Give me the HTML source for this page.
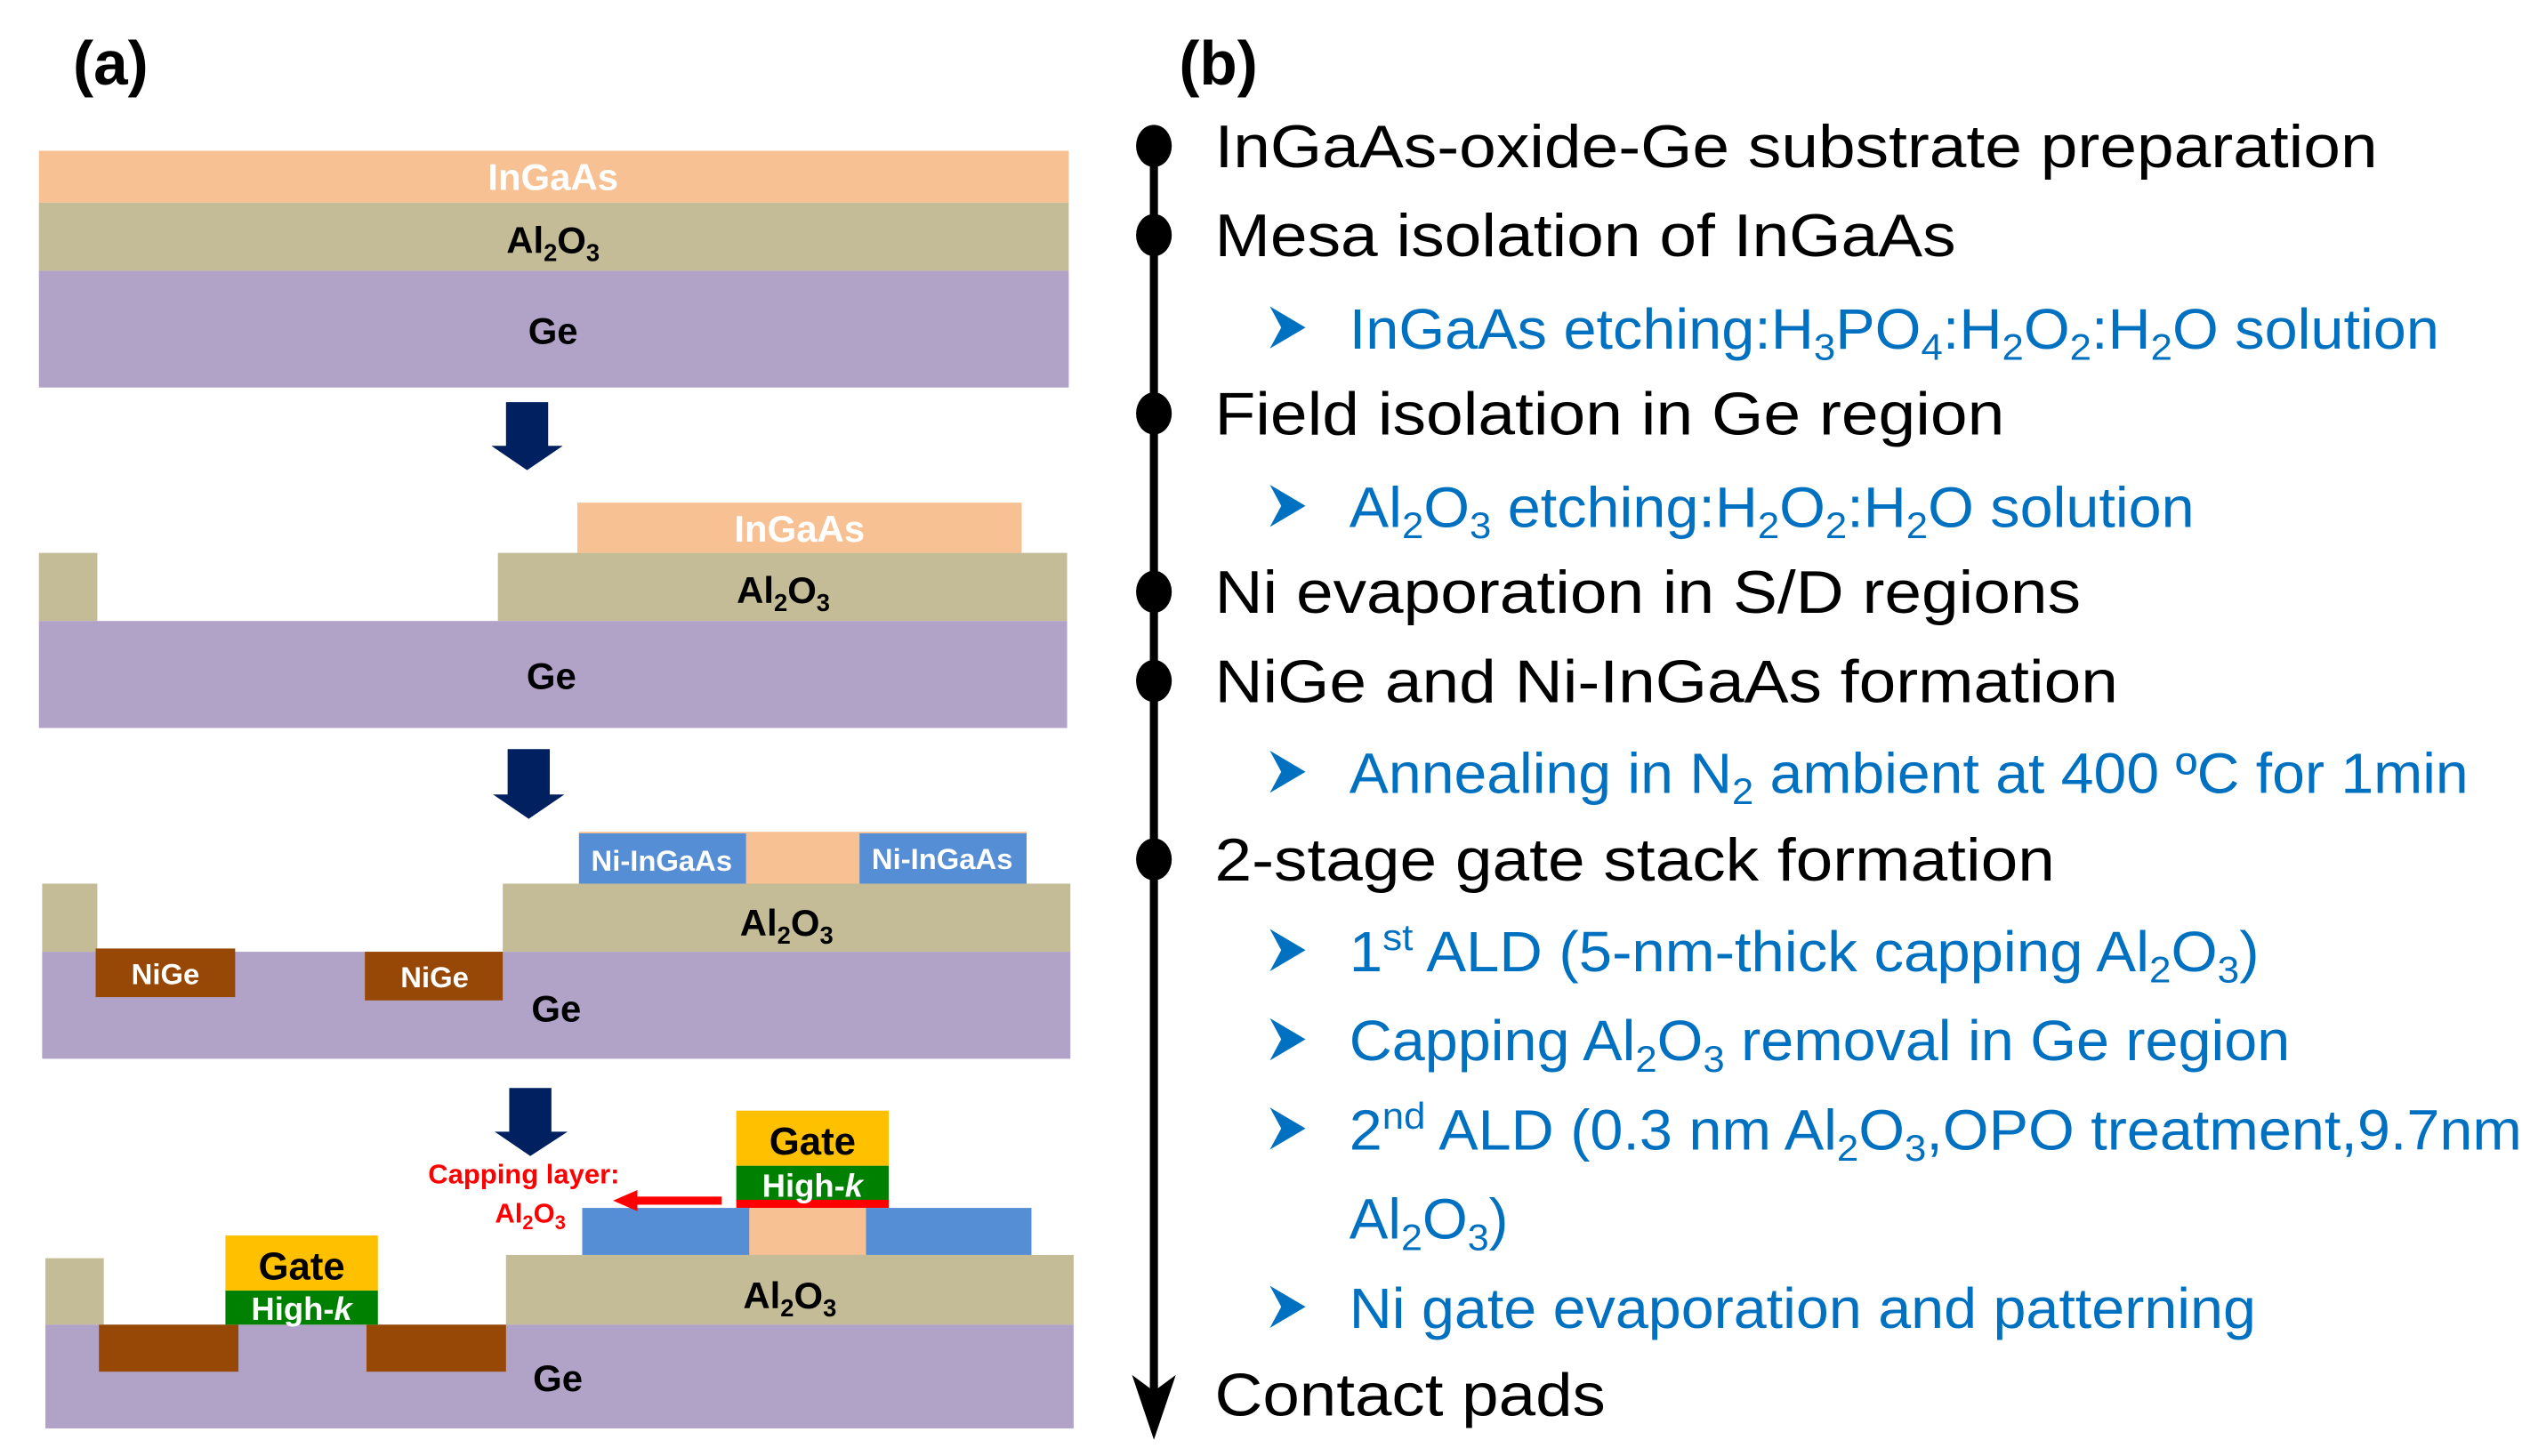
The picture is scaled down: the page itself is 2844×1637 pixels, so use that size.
<!DOCTYPE html>
<html><head><meta charset="utf-8"><style>html,body{margin:0;padding:0;background:#fff}svg{display:block}</style></head>
<body>
<svg width="2844" height="1637" viewBox="0 0 1560 898" preserveAspectRatio="none" xmlns="http://www.w3.org/2000/svg" font-family="Liberation Sans, Arial, sans-serif">
<rect width="1560" height="898" fill="#fff"/>
<!-- (a) -->
<text x="45" y="52" font-size="38" font-weight="bold">(a)</text>
<!-- stage 1 -->
<rect x="24" y="93" width="635" height="32" fill="#F8C193"/>
<rect x="24" y="125" width="635" height="42" fill="#C4BC97"/>
<rect x="24" y="167" width="635" height="72" fill="#B1A2C7"/>
<g font-weight="bold" font-size="23" text-anchor="middle">
<text x="341" y="117" fill="#fff">InGaAs</text>
<text x="341" y="156">Al<tspan font-size="15" dy="5">2</tspan><tspan dy="-5">O</tspan><tspan font-size="15" dy="5">3</tspan></text>
<text x="341" y="212">Ge</text>
</g>
<!-- arrow -->
<g fill="#002060">
<path d="M312 248H338V275H347L325 290L303 275H312Z"/>
<path d="M313 462H339V490H348L326 505L304 490H313Z"/>
<path d="M314 671H340V698H350L327 713L305 698H314Z"/>
</g>
<!-- stage 2 -->
<rect x="356" y="310" width="274" height="31" fill="#F8C193"/>
<rect x="307" y="341" width="351" height="42" fill="#C4BC97"/>
<rect x="24" y="341" width="36" height="42" fill="#C4BC97"/>
<rect x="24" y="383" width="634" height="66" fill="#B1A2C7"/>
<g font-weight="bold" font-size="23" text-anchor="middle">
<text x="493" y="334" fill="#fff">InGaAs</text>
<text x="483" y="372">Al<tspan font-size="15" dy="5">2</tspan><tspan dy="-5">O</tspan><tspan font-size="15" dy="5">3</tspan></text>
<text x="340" y="425">Ge</text>
</g>
<!-- stage 3 -->
<rect x="357" y="513" width="276" height="32" fill="#F8C193"/>
<rect x="357" y="514" width="103" height="31" fill="#558ED5"/>
<rect x="530" y="514" width="103" height="31" fill="#558ED5"/>
<rect x="310" y="545" width="350" height="42" fill="#C4BC97"/>
<rect x="26" y="545" width="34" height="42" fill="#C4BC97"/>
<rect x="26" y="587" width="634" height="66" fill="#B1A2C7"/>
<rect x="59" y="585" width="86" height="30" fill="#974806"/>
<rect x="225" y="587" width="85" height="30" fill="#974806"/>
<g font-weight="bold" text-anchor="middle">
<text x="408" y="537" font-size="18" fill="#fff">Ni-InGaAs</text>
<text x="581" y="536" font-size="18" fill="#fff">Ni-InGaAs</text>
<text x="102" y="607" font-size="18" fill="#fff">NiGe</text>
<text x="268" y="609" font-size="18" fill="#fff">NiGe</text>
<text x="485" y="577" font-size="23">Al<tspan font-size="15" dy="5">2</tspan><tspan dy="-5">O</tspan><tspan font-size="15" dy="5">3</tspan></text>
<text x="343" y="630" font-size="23">Ge</text>
</g>
<!-- stage 4 -->
<rect x="454" y="685" width="94" height="34" fill="#FFC000"/>
<rect x="454" y="719" width="94" height="22" fill="#008000"/>
<rect x="454" y="740" width="94" height="5" fill="#FF0000"/>
<rect x="359" y="745" width="277" height="29" fill="#558ED5"/>
<rect x="462" y="745" width="72" height="29" fill="#F8C193"/>
<rect x="312" y="774" width="350" height="43" fill="#C4BC97"/>
<rect x="28" y="776" width="36" height="41" fill="#C4BC97"/>
<rect x="28" y="817" width="634" height="64" fill="#B1A2C7"/>
<rect x="61" y="817" width="86" height="29" fill="#974806"/>
<rect x="226" y="817" width="86" height="29" fill="#974806"/>
<rect x="139" y="762" width="94" height="34" fill="#FFC000"/>
<rect x="139" y="796" width="94" height="21" fill="#008000"/>
<g font-weight="bold" text-anchor="middle">
<text x="501" y="712" font-size="24">Gate</text>
<text x="501" y="738" font-size="20" fill="#fff">High-<tspan font-style="italic">k</tspan></text>
<text x="186" y="789" font-size="24">Gate</text>
<text x="186" y="814" font-size="20" fill="#fff">High-<tspan font-style="italic">k</tspan></text>
<text x="487" y="807" font-size="23">Al<tspan font-size="15" dy="5">2</tspan><tspan dy="-5">O</tspan><tspan font-size="15" dy="5">3</tspan></text>
<text x="344" y="858" font-size="23">Ge</text>
<text x="323" y="730" font-size="17" fill="#FF0000">Capping layer:</text>
<text x="327" y="754" font-size="17" fill="#FF0000">Al<tspan font-size="12" dy="4">2</tspan><tspan dy="-4">O</tspan><tspan font-size="12" dy="4">3</tspan></text>
</g>
<rect x="390" y="738" width="55" height="5" fill="#FF0000"/>
<path d="M378 740.5L393 734V747Z" fill="#FF0000"/>
<!-- (b) -->
<text x="727" y="52" font-size="38" font-weight="bold">(b)</text>
<rect x="709" y="88" width="5" height="770" fill="#000"/>
<path d="M698 848L711.5 858L725 848L711.5 888Z" fill="#000"/>
<g fill="#000">
<ellipse cx="711.5" cy="90" rx="11" ry="13"/>
<ellipse cx="711.5" cy="145" rx="11" ry="13"/>
<ellipse cx="711.5" cy="255" rx="11" ry="13"/>
<ellipse cx="711.5" cy="365" rx="11" ry="13"/>
<ellipse cx="711.5" cy="420" rx="11" ry="13"/>
<ellipse cx="711.5" cy="530" rx="11" ry="13"/>
</g>
<g font-size="37" fill="#000">
<text x="749" y="103" textLength="717" lengthAdjust="spacingAndGlyphs">InGaAs-oxide-Ge substrate preparation</text>
<text x="749" y="158" textLength="457" lengthAdjust="spacingAndGlyphs">Mesa isolation of InGaAs</text>
<text x="749" y="268" textLength="487" lengthAdjust="spacingAndGlyphs">Field isolation in Ge region</text>
<text x="749" y="378" textLength="534" lengthAdjust="spacingAndGlyphs">Ni evaporation in S/D regions</text>
<text x="749" y="433" textLength="557" lengthAdjust="spacingAndGlyphs">NiGe and Ni-InGaAs formation</text>
<text x="749" y="543" textLength="518" lengthAdjust="spacingAndGlyphs">2-stage gate stack formation</text>
<text x="749" y="873" textLength="241" lengthAdjust="spacingAndGlyphs">Contact pads</text>
</g>
<g fill="#0070C0">
<g id="arr"><path d="M783 189L805 202L783 215L790 202Z"/></g>
<path d="M783 299L805 312L783 325L790 312Z"/>
<path d="M783 463L805 476L783 489L790 476Z"/>
<path d="M783 573L805 586L783 599L790 586Z"/>
<path d="M783 628L805 641L783 654L790 641Z"/>
<path d="M783 683L805 696L783 709L790 696Z"/>
<path d="M783 793L805 806L783 819L790 806Z"/>
</g>
<g font-size="35" fill="#0070C0">
<text x="832" y="215" textLength="672" lengthAdjust="spacingAndGlyphs">InGaAs etching:H<tspan font-size="23" dy="7">3</tspan><tspan dy="-7">PO</tspan><tspan font-size="23" dy="7">4</tspan><tspan dy="-7">:H</tspan><tspan font-size="23" dy="7">2</tspan><tspan dy="-7">O</tspan><tspan font-size="23" dy="7">2</tspan><tspan dy="-7">:H</tspan><tspan font-size="23" dy="7">2</tspan><tspan dy="-7">O solution</tspan></text>
<text x="832" y="325" textLength="521" lengthAdjust="spacingAndGlyphs">Al<tspan font-size="23" dy="7">2</tspan><tspan dy="-7">O</tspan><tspan font-size="23" dy="7">3</tspan><tspan dy="-7"> etching:H</tspan><tspan font-size="23" dy="7">2</tspan><tspan dy="-7">O</tspan><tspan font-size="23" dy="7">2</tspan><tspan dy="-7">:H</tspan><tspan font-size="23" dy="7">2</tspan><tspan dy="-7">O solution</tspan></text>
<text x="832" y="489" textLength="690" lengthAdjust="spacingAndGlyphs">Annealing in N<tspan font-size="23" dy="7">2</tspan><tspan dy="-7"> ambient at 400 ºC for 1min</tspan></text>
<text x="832" y="599" textLength="561" lengthAdjust="spacingAndGlyphs">1<tspan font-size="23" dy="-13">st</tspan><tspan dy="13"> ALD (5-nm-thick capping Al</tspan><tspan font-size="23" dy="7">2</tspan><tspan dy="-7">O</tspan><tspan font-size="23" dy="7">3</tspan><tspan dy="-7">)</tspan></text>
<text x="832" y="654" textLength="580" lengthAdjust="spacingAndGlyphs">Capping Al<tspan font-size="23" dy="7">2</tspan><tspan dy="-7">O</tspan><tspan font-size="23" dy="7">3</tspan><tspan dy="-7"> removal in Ge region</tspan></text>
<text x="832" y="709" textLength="723" lengthAdjust="spacingAndGlyphs">2<tspan font-size="23" dy="-13">nd</tspan><tspan dy="13"> ALD (0.3 nm Al</tspan><tspan font-size="23" dy="7">2</tspan><tspan dy="-7">O</tspan><tspan font-size="23" dy="7">3</tspan><tspan dy="-7">,OPO treatment,9.7nm</tspan></text>
<text x="832" y="764" textLength="98" lengthAdjust="spacingAndGlyphs">Al<tspan font-size="23" dy="7">2</tspan><tspan dy="-7">O</tspan><tspan font-size="23" dy="7">3</tspan><tspan dy="-7">)</tspan></text>
<text x="832" y="819" textLength="559" lengthAdjust="spacingAndGlyphs">Ni gate evaporation and patterning</text>
</g>
</svg>
</body></html>
